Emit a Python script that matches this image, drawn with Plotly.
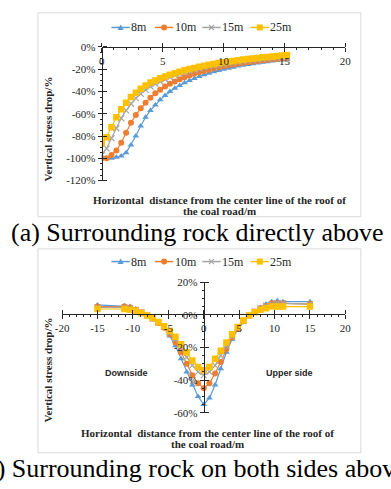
import plotly.graph_objects as go

W, H = 391, 489

# ---------------- data ----------------
names = ["8m", "10m", "15m", "25m"]
colors = ["#5B9BD5", "#ED7D31", "#A5A5A5", "#FFC000"]
symbols = ["triangle-up", "circle", "x-thin", "square"]
msizes = [6, 6, 6, 6.5]

# (a) surrounding rock directly above
top_x = [0, 0.4, 0.8, 1.2, 1.6, 2.0, 2.4, 2.8, 3.2, 3.6, 4.0, 4.4, 4.8, 5.2, 5.6,
         6.0, 6.4, 6.8, 7.2, 7.6, 8.0, 8.4, 8.8, 9.2, 9.6, 10.0, 10.4, 10.8, 11.2,
         11.6, 12.0, 12.4, 12.8, 13.2, 13.6, 14.0, 14.4, 14.8, 15.2]
top_8m = [-100, -100, -100, -99, -98, -95, -88, -80, -71, -63, -57, -52, -47.5, -43.5,
          -40, -37, -34.5, -32.2, -30.1, -28.3, -26.6, -25, -23.6, -22.3, -21.1, -20,
          -19, -18.1, -17.2, -16.4, -15.7, -15, -14.4, -13.8, -13.2, -12.7, -12.2, -11.7, -11.3]
top_10m = [-100, -100, -97, -93, -86, -77, -68, -61, -55, -50, -45.5, -41.5, -38.5, -35.5,
           -33, -31, -29, -27.2, -25.6, -24.1, -22.8, -21.5, -20.4, -19.3, -18.3, -17.4,
           -16.6, -15.8, -15.1, -14.4, -13.8, -13.2, -12.6, -12.1, -11.6, -11.1, -10.7, -10.3, -9.9]
top_15m = [-97, -91, -82, -73, -64, -57, -51, -46, -42, -38.5, -35.5, -33, -31, -29,
           -27.3, -25.8, -24.4, -23.1, -21.9, -20.8, -19.8, -18.8, -17.9, -17.1, -16.3,
           -15.6, -14.9, -14.3, -13.7, -13.1, -12.5, -12, -11.5, -11, -10.6, -10.2, -9.8, -9.4, -9.0]
top_25m = [-87, -81, -72, -63, -56, -50, -45, -41, -37.5, -34.5, -32, -30, -28, -26.5,
           -25, -23.5, -22.2, -21, -19.8, -18.8, -17.8, -16.9, -16, -15.2, -14.5, -13.8,
           -13.1, -12.5, -11.9, -11.3, -10.8, -10.3, -9.8, -9.3, -8.9, -8.5, -8.1, -7.7, -7.3]

# (b) surrounding rock on both sides
bot_x = [-15, -11.2, -10.4, -9.6, -8.8, -8.0, -7.2, -6.4, -5.6, -4.8, -4.0, -3.2, -2.4,
         -1.6, -0.8, 0, 0.8, 1.6, 2.4, 3.2, 4.0, 4.8, 5.6, 6.4, 7.2, 8.0, 8.8, 9.6,
         10.4, 11.2, 15]
bot_8m = [6, 5.5, 5, 3.5, 1.5, -0.5, -2.5, -5, -8, -13, -19, -27, -35, -43, -50, -55,
          -51, -43, -33, -23, -15, -9, -4.5, -0.5, 2, 4.5, 6.5, 8, 8.5, 8, 8]
bot_10m = [5, 5, 4.5, 3, 1.5, -0.5, -2.5, -5, -8, -12, -17, -23, -30, -37, -42, -45,
           -42, -36, -29, -21, -14, -8.5, -4, -0.5, 2, 4, 5.5, 7, 7, 7, 6.5]
bot_15m = [4.5, 4.5, 4, 3, 1.5, -0.5, -2.5, -5, -7.5, -11, -15, -20, -26, -31, -35, -37,
           -35, -31, -25, -19, -13, -8, -4, -0.5, 2, 4, 5.5, 6.5, 7, 7, 6.5]
bot_25m = [3.5, 3.5, 3, 2.5, 1, -0.5, -2, -4.5, -7, -10, -13.5, -18, -23, -28, -32, -34,
           -32, -27, -22, -17, -12, -7.5, -3.5, -0.5, 1.5, 3, 4, 5, 5, 5, 5]

top_xticks = [0, 5, 10, 15, 20]
top_xtext = ["0", "5", "10", "15", "20"]
top_yticks = [0, -20, -40, -60, -80, -100, -120]
top_ytext = ["0%", "-20%", "-40%", "-60%", "-80%", "-100%", "-120%"]
bot_xticks = [-20, -15, -10, -5, 0, 5, 10, 15, 20]
bot_xtext = ["-20", "-15", "-10", "-5", "0", "5", "10", "15", "20"]
bot_yticks = [20, 0, -20, -40, -60]
bot_ytext = ["20%", "0%", "-20%", "-40%", "-60%"]

y_title = "Vertical stress drop/%"
x_title_1 = "Horizontal\u00a0 distance from the center line of the roof of"
x_title_2 = "the coal road/m"
cap_a = "(a) Surrounding rock directly above"
cap_b = "(b) Surrounding rock on both sides above"

# ---------------- style ----------------
SERIF = "Liberation Serif, Times New Roman, serif"
SANS = "Liberation Sans, Arial, sans-serif"
AX = "#262626"
TXT = "#262626"


def fx(p):
    return p / W


def fy(p):
    return 1 - p / H


# plot areas (pixels)
TX0, TX1, TY_TOP, TY_BOT = 98, 350, 42, 179
BX0, BX1, BY_TOP, BY_BOT = 57, 350, 283, 417
B_XAXIS_Y = 316      # pixel row of y=0 in chart (b)
B_YAXIS_X = 203.5    # pixel column of x=0 in chart (b)

# legend layout (pixels)
LEG_X0 = [108, 153, 202, 252]   # start of each key line
LEG_LINE = 19
LEG_Y = [22, 262]

fig = go.Figure()

top_series = [top_8m, top_10m, top_15m, top_25m]
bot_series = [bot_8m, bot_10m, bot_15m, bot_25m]


def marker_for(i):
    m = dict(symbol=symbols[i], size=msizes[i], color=colors[i])
    if symbols[i] == "x-thin":
        m["line"] = dict(color=colors[i], width=1.2)
    else:
        m["line"] = dict(width=0)
    return m


for i, ys in enumerate(top_series):
    fig.add_trace(go.Scatter(x=top_x, y=ys, mode="lines+markers", name=names[i],
                             line=dict(color=colors[i], width=1.2), marker=marker_for(i),
                             xaxis="x", yaxis="y", showlegend=False))
for i, ys in enumerate(bot_series):
    fig.add_trace(go.Scatter(x=bot_x, y=ys, mode="lines+markers", name=names[i],
                             line=dict(color=colors[i], width=1.2), marker=marker_for(i),
                             xaxis="x2", yaxis="y2", showlegend=False))

# empty helper traces so the overlay (cross-tick) axes are drawn
fig.add_trace(go.Scatter(x=[], y=[], xaxis="x3", yaxis="y3", showlegend=False, hoverinfo="skip"))
fig.add_trace(go.Scatter(x=[], y=[], xaxis="x4", yaxis="y4", showlegend=False, hoverinfo="skip"))

common = dict(showgrid=False, zeroline=False, showline=True, linecolor=AX, linewidth=1,
              ticks="outside", ticklen=4, tickwidth=1, tickcolor=AX,
              tickfont=dict(family=SERIF, size=11, color=TXT), fixedrange=True,
              tickmode="array")
over = dict(showgrid=False, zeroline=False, showline=False, ticks="outside", ticklen=4,
            tickwidth=1, tickcolor=AX, showticklabels=False, fixedrange=True,
            tickmode="array")

fig.update_layout(
    width=W, height=H, margin=dict(l=0, r=0, t=0, b=0),
    paper_bgcolor="white", plot_bgcolor="rgba(0,0,0,0)", showlegend=False,
    xaxis=dict(domain=[fx(TX0), fx(TX1)], range=[0, 20], anchor="free", position=fy(TY_TOP),
               side="bottom", tickvals=top_xticks, ticktext=top_xtext,
               minor=dict(ticks="outside", tick0=0, dtick=1, ticklen=2, tickcolor=AX), **common),
    yaxis=dict(domain=[fy(TY_BOT), fy(TY_TOP)], range=[-120, 0], anchor="free", position=fx(TX0),
               side="left", tickvals=top_yticks, ticktext=top_ytext,
               minor=dict(ticks="outside", tick0=0, dtick=5, ticklen=2, tickcolor=AX), **common),
    xaxis3=dict(overlaying="x", range=[0, 20], anchor="free", position=fy(TY_TOP), side="top",
                tickvals=top_xticks, **over),
    yaxis3=dict(overlaying="y", range=[-120, 0], anchor="free", position=fx(TX0), side="right",
                tickvals=top_yticks, **over),
    xaxis2=dict(domain=[fx(BX0), fx(BX1)], range=[-20, 20], anchor="free", position=fy(B_XAXIS_Y),
                side="bottom", tickvals=bot_xticks, ticktext=bot_xtext,
                minor=dict(ticks="outside", tick0=0, dtick=1, ticklen=2, tickcolor=AX), **common),
    yaxis2=dict(domain=[fy(BY_BOT), fy(BY_TOP)], range=[-60, 20], anchor="free", position=fx(B_YAXIS_X),
                side="left", tickvals=bot_yticks, ticktext=bot_ytext,
                minor=dict(ticks="outside", tick0=0, dtick=5, ticklen=2, tickcolor=AX), **common),
    xaxis4=dict(overlaying="x2", range=[-20, 20], anchor="free", position=fy(B_XAXIS_Y), side="top",
                tickvals=bot_xticks, **over),
    yaxis4=dict(overlaying="y2", range=[-60, 20], anchor="free", position=fx(B_YAXIS_X), side="right",
                tickvals=bot_yticks, **over),
)

# chart frames
for (x0, y0, x1, y1) in [(32, 7, 366, 216), (32, 249, 366, 458)]:
    fig.add_shape(type="rect", xref="paper", yref="paper", x0=fx(x0), x1=fx(x1),
                  y0=fy(y1), y1=fy(y0), line=dict(color="#D9D9D9", width=1),
                  fillcolor="rgba(0,0,0,0)", layer="below")

ann = []

# legend keys (drawn from the series style lists)
MARKER_PATHS = {
    "triangle-up": "M -3,-2.5 L 3,-2.5 L 0,3 Z",
    "square": "M -3,-3 L 3,-3 L 3,3 L -3,3 Z",
    "x-thin": "M -2.5,-2.5 L 2.5,2.5 M -2.5,2.5 L 2.5,-2.5",
}
for ly in LEG_Y:
    for i, name in enumerate(names):
        x0 = LEG_X0[i]
        xc = x0 + LEG_LINE / 2
        fig.add_shape(type="line", xref="paper", yref="paper", x0=fx(x0), x1=fx(x0 + LEG_LINE),
                      y0=fy(ly), y1=fy(ly), line=dict(color=colors[i], width=1.5))
        sym = symbols[i]
        if sym == "circle":
            fig.add_shape(type="circle", xref="paper", yref="paper", xsizemode="pixel",
                          ysizemode="pixel", xanchor=fx(xc), yanchor=fy(ly),
                          x0=-3, x1=3, y0=-3, y1=3, fillcolor=colors[i],
                          line=dict(width=0))
        elif sym == "x-thin":
            fig.add_shape(type="path", xref="paper", yref="paper", xsizemode="pixel",
                          ysizemode="pixel", xanchor=fx(xc), yanchor=fy(ly),
                          path=MARKER_PATHS[sym], line=dict(color=colors[i], width=1.2))
        else:
            fig.add_shape(type="path", xref="paper", yref="paper", xsizemode="pixel",
                          ysizemode="pixel", xanchor=fx(xc), yanchor=fy(ly),
                          path=MARKER_PATHS[sym], fillcolor=colors[i], line=dict(width=0))
        ann.append(dict(text=name, x=fx(x0 + LEG_LINE + 0.5), y=fy(ly), xanchor="left",
                        font=dict(family=SERIF, size=12, color=TXT)))

# y titles
for yc in (126, 373):
    ann.append(dict(text="<b>%s</b>" % y_title, x=fx(42), y=fy(yc), textangle=-90,
                    font=dict(family=SERIF, size=11, color=TXT)))
# x titles
for xc, y1, y2 in ((220, 198.5, 210), (207, 437.5, 449.5)):
    ann.append(dict(text="<b>%s</b>" % x_title_1, x=fx(xc), y=fy(y1),
                    font=dict(family=SERIF, size=11, color=TXT)))
    ann.append(dict(text="<b>%s</b>" % x_title_2, x=fx(xc), y=fy(y2),
                    font=dict(family=SERIF, size=11, color=TXT)))
# side labels
ann.append(dict(text="<b>Downside</b>", x=fx(124), y=fy(376),
                font=dict(family=SANS, size=9, color=TXT)))
ann.append(dict(text="<b>Upper side</b>", x=fx(292), y=fy(376),
                font=dict(family=SANS, size=9, color=TXT)))
# captions
ann.append(dict(text=cap_a, x=fx(3), y=fy(232), xanchor="left",
                font=dict(family=SERIF, size=26, color="#000000")))
ann.append(dict(text=cap_b, x=fx(-34), y=fy(474), xanchor="left",
                font=dict(family=SERIF, size=26, color="#000000")))

for a in ann:
    a.setdefault("xanchor", "center")
    a.update(xref="paper", yref="paper", showarrow=False, yanchor="middle", borderpad=0)
    fig.add_annotation(**a)

fig.write_html("out.html")
